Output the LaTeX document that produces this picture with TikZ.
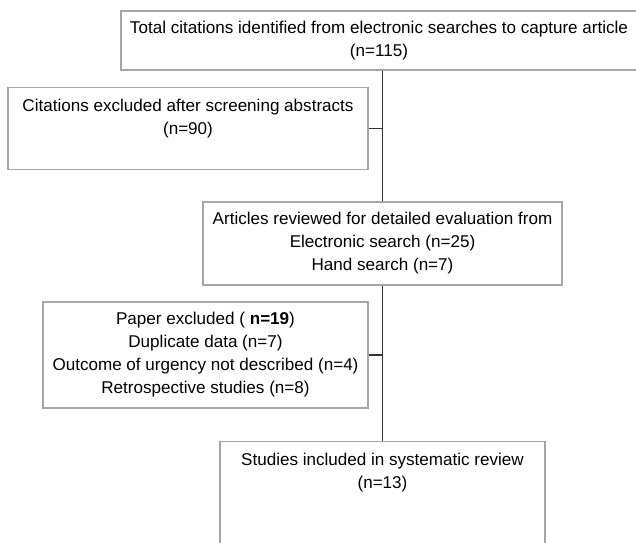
\documentclass[tikz,border=0pt]{standalone}
\usepackage{fontspec}
\setmainfont{Liberation Sans}
\definecolor{color0}{HTML}{000000}
\definecolor{lineColor}{HTML}{333333}
\definecolor{boxColor}{HTML}{A6A6A6}
\definecolor{bgColor}{HTML}{ffffff}

\begin{document}
\begin{tikzpicture}
\tikzset{x=0.75pt,y=0.75pt}
\tikzset{flowbox/.style={draw=boxColor, line width=0.9pt, align=center, inner sep=0pt, text=color0, font=\fontsize{12.8}{17.25}\selectfont},
  link/.style={line width=1pt, color=lineColor}}
\clip (0,0) rectangle (636,543);
\fill[bgColor] (0,0) rectangle (636,543);
\node[flowbox, minimum width=387pt, minimum height=44.25pt] (total) at (379, 502.5) {Total citations identified from electronic searches to capture article\\(n=115)};
\node[flowbox, anchor=north, minimum width=270pt, minimum height=61.5pt, inner ysep=8.8pt, text depth=17.3pt] (screened) at (188, 456) {Citations excluded after screening abstracts\\(n=90)};
\node[flowbox, minimum width=269.25pt, minimum height=62.25pt] (articles) at (382.5, 299.5) {Articles reviewed for detailed evaluation from\\Electronic search (n=25)\\Hand search (n=7)};
\node[flowbox, minimum width=243.75pt, minimum height=79.5pt] (papers) at (205.5, 188) {Paper excluded ( \textbf{n=19})\\Duplicate data (n=7)\\Outcome of urgency not described (n=4)\\Retrospective studies (n=8)};
\node[flowbox, anchor=north, minimum width=243.75pt, inner ysep=8.8pt, text depth=120pt] (included) at (382.5, 102) {Studies included in systematic review\\(n=13)};
\draw[link] (articles.north |- total.south) -- (articles.north);
\draw[link] (screened.east) -- (screened.east -| articles.north);
\draw[link] (papers.east) -- (papers.east -| articles.north);
\draw[link] (articles.south) -- (included.north);
\end{tikzpicture}
\end{document}
